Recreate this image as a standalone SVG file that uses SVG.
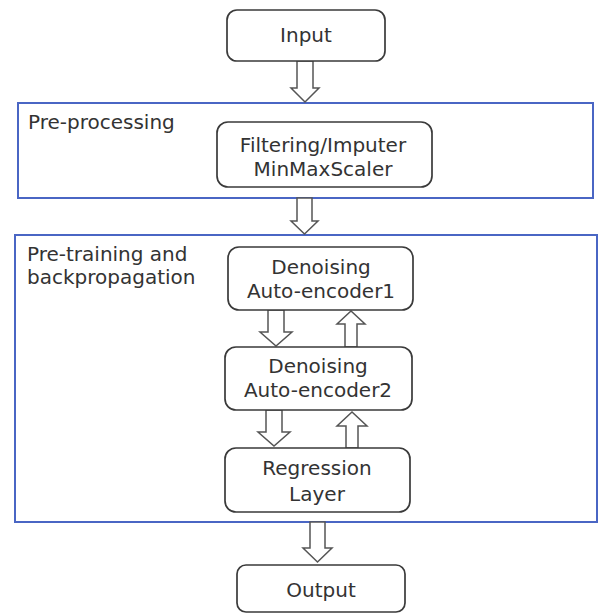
<svg xmlns="http://www.w3.org/2000/svg" width="600" height="615" viewBox="0 0 600 615">
<style>
.box{fill:#fff;stroke:#3a3a3a;stroke-width:1.7}
.grp{fill:none;stroke:#4a66c4;stroke-width:2}
.arr{fill:#fff;stroke:#555;stroke-width:1.5;stroke-linejoin:miter}
text{font-family:"DejaVu Sans","Liberation Sans",sans-serif;font-size:20px;fill:#333}
.c{text-anchor:middle}
</style>
<rect width="600" height="615" fill="#fff"/>
<g id="preprocessing-group">
<rect class="grp" x="18" y="103" width="575" height="95"/>
<text x="28" y="129">Pre-processing</text>
</g>
<g id="pretraining-group">
<rect class="grp" x="15" y="235" width="582" height="287"/>
<text x="27" y="261">Pre-training and</text>
<text x="27" y="284">backpropagation</text>
</g>
<g id="connectors">
<path class="arr" d="M297,61 L313,61 L313,88 L319,88 L305,102 L291,88 L297,88 Z"/>
<path class="arr" d="M297,198 L312,198 L312,221 L318,221 L304.5,234 L291,221 L297,221 Z"/>
<path class="arr" d="M268,310 L284,310 L284,332 L292,332 L276,346 L260,332 L268,332 Z"/>
<path class="arr" d="M345,347 L357,347 L357,324 L365,324 L351,311 L337,324 L345,324 Z"/>
<path class="arr" d="M266,410 L282,410 L282,432 L290,432 L274,446 L258,432 L266,432 Z"/>
<path class="arr" d="M346,448 L358,448 L358,426 L367,426 L352,412 L337,426 L346,426 Z"/>
<path class="arr" d="M310,522 L325,522 L325,548 L332,548 L317.5,562 L303,548 L310,548 Z"/>
</g>
<g id="input">
<rect class="box" x="227" y="10" width="158" height="51" rx="10"/>
<text class="c" x="306" y="42">Input</text>
</g>
<g id="filtering">
<rect class="box" x="217" y="122" width="215" height="65" rx="11"/>
<text class="c" x="323" y="152">Filtering/Imputer</text>
<text class="c" x="323" y="176">MinMaxScaler</text>
</g>
<g id="dae1">
<rect class="box" x="228" y="247" width="185" height="63" rx="11"/>
<text class="c" x="321" y="274">Denoising</text>
<text class="c" x="321" y="298">Auto-encoder1</text>
</g>
<g id="dae2">
<rect class="box" x="225" y="347" width="187" height="63" rx="11"/>
<text class="c" x="318" y="373">Denoising</text>
<text class="c" x="318" y="397">Auto-encoder2</text>
</g>
<g id="regression">
<rect class="box" x="225" y="448" width="185" height="64" rx="11"/>
<text class="c" x="317" y="475">Regression</text>
<text class="c" x="317" y="501">Layer</text>
</g>
<g id="output">
<rect class="box" x="237" y="565" width="168" height="47" rx="9"/>
<text class="c" x="321" y="597">Output</text>
</g>
</svg>
